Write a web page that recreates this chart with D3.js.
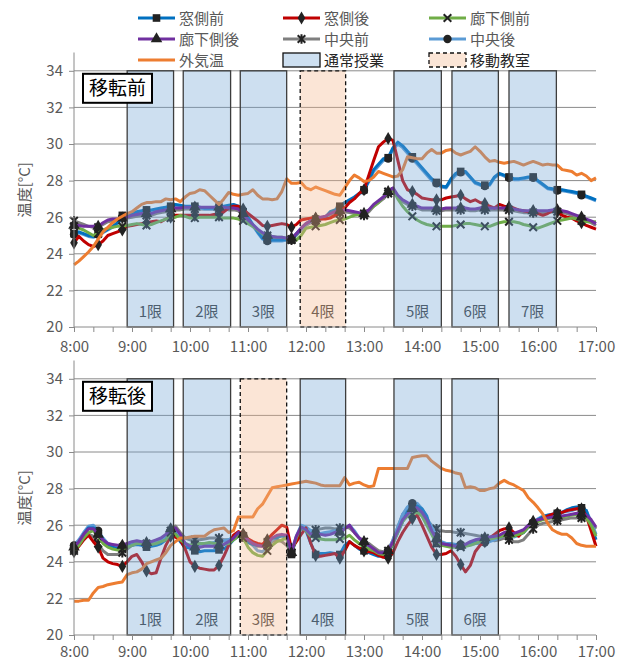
<!DOCTYPE html>
<html>
<head>
<meta charset="utf-8">
<script src="https://cdn.jsdelivr.net/npm/d3@7"></script>
<style>
  body { margin: 0; background: #fff; }
  svg { display: block; }
  text { font-family: 'Noto Sans CJK JP', 'Noto Sans', sans-serif; }
</style>
</head>
<body>
<div id="chart"></div>
<script>
// sample times: every 5 minutes from 8:00 (minutes since 8:00)
const sampleMinutes = d3.range(0, 541, 5);
const hourLabels = ["8:00", "9:00", "10:00", "11:00", "12:00", "13:00", "14:00", "15:00", "16:00", "17:00"];
const yTicks = [20, 22, 24, 26, 28, 30, 32, 34];

const seriesNames = ["窓側前", "窓側後", "廊下側前", "廊下側後", "中央前", "中央後", "外気温"];
const seriesColors = ["#0070c0", "#c00000", "#70ad47", "#7030a0", "#7f7f7f", "#5b9bd5", "#ed7d31"];
const seriesMarkers = ["square", "diamond", "x", "triangle", "star", "circle", null];

// 移転前
const preWinFront = [
  25.1, 25.2, 25.1, 25.0, 24.95, 25.1, 25.2, 25.35, 25.5, 25.7, 26.1, 26.15,
  26.2, 26.3, 26.35, 26.4, 26.4, 26.45, 26.5, 26.55, 26.6, 26.7, 26.65, 26.6,
  26.6, 26.6, 26.55, 26.5, 26.5, 26.5, 26.55, 26.6, 26.65, 26.7, 26.6, 26.3,
  26.0, 25.6, 25.2, 24.85, 24.75, 24.75, 24.75, 24.75, 24.8, 24.75, 25.1, 25.4,
  25.65, 25.8, 25.9, 25.95, 26.0, 26.3, 26.4, 26.6, 26.8, 26.95, 27.1, 27.3,
  27.5, 28.0, 28.6, 28.9, 29.2, 29.25, 29.8, 30.1, 29.9, 29.6, 29.3, 29.0,
  28.7, 28.4, 28.1, 27.9, 27.7, 27.65, 28.1, 28.4, 28.5, 28.5, 28.2, 27.9,
  27.8, 27.75, 27.8, 28.2, 28.4, 28.3, 28.2, 28.1, 28.1, 28.15, 28.2, 28.2,
  28.0, 27.8, 27.6, 27.55, 27.5, 27.5, 27.45, 27.4, 27.35, 27.25, 27.15, 27.05,
  26.95];
const preWinBack = [
  24.6, 24.95, 24.7, 24.5, 24.4, 24.5, 24.7, 25.0, 25.1, 25.2, 25.3, 25.5,
  25.55, 25.6, 25.65, 25.7, 25.75, 25.8, 25.75, 25.9, 26.0, 26.1, 26.1, 26.1,
  26.1, 26.1, 26.1, 26.1, 26.1, 26.15, 26.1, 26.3, 26.5, 26.6, 26.6, 26.45,
  26.2, 26.0, 25.8, 25.55, 25.5, 25.55, 25.6, 25.65, 25.6, 25.45, 25.6, 25.85,
  25.9, 25.95, 25.95, 25.9, 25.9, 25.95, 26.1, 26.3, 26.5, 26.8, 27.0, 27.3,
  27.5, 28.3, 29.1, 29.85, 30.1, 30.3, 30.2, 29.1, 28.0, 27.5, 27.4, 27.25,
  27.05, 27.0, 26.95, 26.95, 26.95, 27.05, 27.1, 27.15, 27.2, 27.0, 26.85, 26.95,
  26.8, 26.75, 26.6, 26.5, 26.7, 26.6, 26.55, 26.5, 26.4, 26.35, 26.3, 26.3,
  26.2, 26.1, 26.2, 26.35, 26.3, 26.1, 26.0, 25.95, 25.8, 25.7, 25.55, 25.45,
  25.35];
const preHallFront = [
  25.5, 25.4, 25.3, 25.15, 25.0, 25.1, 25.3, 25.4, 25.45, 25.5, 25.5, 25.55,
  25.6, 25.65, 25.6, 25.55, 25.6, 25.7, 25.8, 25.9, 25.95, 26.0, 26.1, 26.05,
  25.95, 25.95, 26.0, 26.0, 26.0, 26.0, 26.0, 25.95, 25.95, 25.95, 25.9, 25.8,
  25.65, 25.5, 25.3, 25.1, 25.0, 24.95, 24.9, 24.9, 24.85, 24.8, 24.75, 25.0,
  25.4, 25.45, 25.5, 25.55, 25.6, 25.7, 25.8, 25.85, 25.9, 26.0, 26.1, 26.15,
  26.2, 26.4, 26.6, 26.8, 27.1, 27.4, 27.5, 27.0, 26.6, 26.3, 26.05, 25.85,
  25.7, 25.6, 25.55, 25.5, 25.5, 25.5, 25.5, 25.55, 25.6, 25.65, 25.65, 25.6,
  25.55, 25.5, 25.5, 25.6, 25.7, 25.75, 25.75, 25.75, 25.7, 25.6, 25.55, 25.45,
  25.4, 25.5, 25.6, 25.7, 25.8, 25.85, 25.9, 25.95, 25.9, 25.8, 25.75, 25.75,
  25.75];
const preHallBack = [
  25.55, 25.55, 25.5, 25.5, 25.5, 25.5, 25.7, 25.85, 25.9, 25.9, 25.95, 26.0,
  26.1, 26.15, 26.2, 26.2, 26.2, 26.3, 26.35, 26.4, 26.45, 26.5, 26.5, 26.55,
  26.55, 26.55, 26.55, 26.55, 26.55, 26.55, 26.55, 26.55, 26.5, 26.5, 26.45, 26.2,
  25.85, 25.6, 25.35, 25.15, 25.0, 24.95, 24.9, 24.9, 24.85, 24.85, 25.1, 25.4,
  25.65, 25.8, 25.9, 26.0, 26.05, 26.2, 26.3, 26.35, 26.4, 26.35, 26.3, 26.25,
  26.2, 26.4, 26.7, 26.9, 27.1, 27.4, 27.6, 27.2, 26.95, 26.8, 26.7, 26.6,
  26.5, 26.5, 26.5, 26.45, 26.45, 26.5, 26.5, 26.5, 26.5, 26.5, 26.45, 26.45,
  26.5, 26.5, 26.5, 26.5, 26.5, 26.5, 26.5, 26.45, 26.4, 26.35, 26.35, 26.35,
  26.35, 26.35, 26.35, 26.4, 26.4, 26.35, 26.3, 26.2, 26.1, 26.0, 25.9, 25.8,
  25.65];
const preCenterFront = [
  25.8, 25.7, 25.6, 25.5, 25.45, 25.45, 25.6, 25.75, 25.8, 25.85, 25.9, 25.95,
  26.0, 26.05, 26.1, 26.1, 26.1, 26.2, 26.25, 26.3, 26.35, 26.4, 26.4, 26.45,
  26.45, 26.45, 26.45, 26.45, 26.45, 26.45, 26.45, 26.45, 26.4, 26.4, 26.35, 26.1,
  25.75, 25.5, 25.25, 25.05, 24.9, 24.85, 24.8, 24.8, 24.75, 24.75, 25.0, 25.3,
  25.55, 25.7, 25.8, 25.9, 25.95, 26.1, 26.2, 26.25, 26.3, 26.25, 26.2, 26.15,
  26.1, 26.3, 26.6, 26.8, 27.0, 27.3, 27.5, 27.1, 26.85, 26.7, 26.6, 26.5,
  26.4, 26.4, 26.4, 26.35, 26.35, 26.4, 26.4, 26.4, 26.4, 26.4, 26.35, 26.35,
  26.4, 26.4, 26.4, 26.4, 26.4, 26.4, 26.4, 26.35, 26.3, 26.25, 26.25, 26.25,
  26.25, 26.25, 26.25, 26.3, 26.3, 26.25, 26.2, 26.1, 26.0, 25.9, 25.8, 25.7,
  25.55];
const preCenterBack = [
  25.05, 25.15, 25.05, 24.95, 24.9, 25.05, 25.15, 25.3, 25.45, 25.65, 26.0, 26.1,
  26.15, 26.25, 26.3, 26.35, 26.35, 26.4, 26.45, 26.5, 26.55, 26.65, 26.6, 26.55,
  26.55, 26.55, 26.5, 26.45, 26.45, 26.45, 26.5, 26.55, 26.6, 26.65, 26.55, 26.25,
  25.95, 25.55, 25.15, 24.8, 24.7, 24.7, 24.7, 24.7, 24.75, 24.8, 25.05, 25.35,
  25.6, 25.75, 25.85, 25.9, 25.95, 26.25, 26.35, 26.55, 26.75, 26.9, 27.05, 27.25,
  27.45, 27.95, 28.5, 28.8, 29.1, 29.2, 29.7, 30.0, 29.8, 29.5, 29.2, 28.9,
  28.6, 28.3, 28.0, 27.85, 27.65, 27.6, 28.0, 28.3, 28.45, 28.45, 28.15, 27.85,
  27.75, 27.7, 27.75, 28.15, 28.35, 28.25, 28.15, 28.05, 28.05, 28.1, 28.15, 28.15,
  27.95, 27.75, 27.55, 27.5, 27.45, 27.45, 27.4, 27.35, 27.3, 27.2, 27.1, 27.0,
  26.9];
const preOutdoor = [
  23.4, 23.6, 23.85, 24.1, 24.4, 24.8, 25.2, 25.45, 25.7, 25.9, 26.05, 26.2,
  26.3, 26.5, 26.7, 26.8, 26.8, 26.85, 26.85, 27.0, 26.95, 27.0, 26.85, 27.1,
  27.3, 27.35, 27.5, 27.45, 27.2, 26.95, 26.7, 27.0, 27.35, 27.25, 27.2, 27.25,
  27.3, 27.5, 27.2, 27.0, 27.0, 26.95, 27.0, 27.4, 28.1, 27.85, 27.85, 27.9,
  27.6, 27.5, 27.65, 27.55, 27.45, 27.35, 27.25, 27.2, 27.6, 28.0, 28.3, 28.15,
  27.95, 28.0, 28.2, 28.5, 28.4, 28.3, 28.2, 28.25, 28.6, 29.3, 29.25, 29.2,
  29.2, 29.5, 29.7, 29.5, 29.5, 29.65, 29.7, 29.5, 29.4, 29.5, 29.6, 29.85,
  29.6, 29.3, 29.05, 29.1, 29.0, 28.95, 29.0, 29.05, 28.95, 28.85, 28.95, 29.05,
  28.95, 28.85, 28.9, 28.85, 28.85, 28.6, 28.55, 28.5, 28.3, 28.4, 28.25, 28.0,
  28.15];

// 移転後
const postWinFront = [
  24.75, 25.0, 25.5, 25.85, 25.85, 25.6, 25.2, 24.9, 24.8, 24.7, 24.75, 24.85,
  24.9, 24.95, 24.9, 24.8, 24.85, 24.9, 25.0, 25.2, 25.55, 25.5, 25.1, 24.8,
  24.75, 24.6, 24.55, 24.6, 24.6, 24.6, 24.65, 24.7, 24.9, 25.2, 25.4, 25.3,
  25.05, 24.95, 24.9, 24.9, 25.1, 25.3, 25.3, 25.45, 25.3, 24.4, 25.3, 25.85,
  25.7, 25.0, 24.4, 24.45, 24.45, 24.5, 24.45, 24.4, 24.9, 25.1, 24.9, 24.7,
  24.6, 24.5, 24.4, 24.3, 24.35, 24.45, 25.0, 25.6, 26.2, 26.75, 27.0, 27.05,
  26.9, 26.5, 25.6, 25.0, 24.9, 24.95, 24.9, 24.9, 24.85, 24.9, 25.0, 25.1,
  25.15, 25.2, 25.3, 25.35, 25.4, 25.55, 25.5, 25.45, 25.5, 25.6, 25.9, 26.1,
  26.3, 26.45, 26.55, 26.6, 26.65, 26.7, 26.85, 26.95, 27.0, 26.95, 26.8, 26.0,
  25.2];
const postWinBack = [
  24.55, 24.85, 25.2, 25.45, 25.1, 24.8, 24.2, 24.0, 23.9, 23.85, 23.75, 24.0,
  24.3, 24.4, 24.0, 23.5, 23.35, 23.4, 24.2, 24.9, 25.4, 25.35, 25.2, 24.7,
  24.0, 23.75, 23.65, 23.6, 23.55, 23.55, 23.8, 24.3, 24.9, 25.45, 25.65, 25.5,
  25.25, 25.1, 25.0, 24.95, 25.2, 25.5, 25.75, 26.0, 25.9, 24.7, 25.1, 25.5,
  25.85, 25.0, 24.35, 24.3, 24.35, 24.4, 24.45, 24.2, 24.6, 25.1, 24.9, 24.75,
  24.6, 24.55, 24.5, 24.35, 24.25, 24.2, 24.5, 25.1, 25.6, 26.0, 26.35, 26.55,
  26.0, 25.4, 24.8, 24.4, 24.4, 24.45, 24.6, 24.3, 23.85, 23.45, 23.8, 24.55,
  24.9, 25.1, 25.3, 25.5, 25.7, 25.8, 25.85, 25.6, 25.4, 25.7, 25.95, 26.1,
  26.25, 26.35, 26.5, 26.6, 26.65, 26.7, 26.8, 26.85, 26.9, 26.9, 26.5, 25.7,
  24.85];
const postHallFront = [
  24.6, 24.9, 25.3, 25.6, 25.7, 25.4, 25.0, 24.8, 24.7, 24.65, 24.7, 24.8,
  24.9, 25.0, 25.0, 24.95, 24.95, 25.0, 25.1, 25.2, 25.6, 25.5, 25.2, 25.0,
  24.9, 24.95, 25.0, 25.0, 25.05, 25.0, 25.0, 24.95, 25.0, 25.2, 25.4, 25.3,
  24.8, 24.5, 24.35, 24.3, 24.6, 24.9, 25.1, 25.2, 25.3, 24.5, 25.3, 25.9,
  25.7, 25.4, 25.3, 25.25, 25.2, 25.2, 25.2, 25.25, 25.3, 25.45, 25.2, 25.0,
  24.8, 24.7, 24.6, 24.45, 24.4, 24.5, 25.0, 25.6, 26.2, 26.5, 26.6, 26.7,
  26.5, 26.0, 25.5, 25.0, 24.9, 24.85, 24.8, 24.8, 24.8, 24.85, 24.9, 25.0,
  25.1, 25.2, 25.25, 25.3, 25.35, 25.45, 25.4, 25.4, 25.5, 25.6, 25.9, 26.05,
  26.2, 26.3, 26.35, 26.4, 26.4, 26.45, 26.5, 26.55, 26.6, 26.55, 26.4, 26.0,
  25.4];
const postHallBack = [
  24.8, 25.1, 25.5, 25.8, 25.8, 25.5, 25.2, 25.0, 24.95, 24.9, 24.9, 25.0,
  25.1, 25.15, 25.1, 25.05, 25.1, 25.2, 25.3, 25.5, 25.8, 25.85, 25.5, 25.0,
  24.85, 24.8, 24.8, 24.85, 24.85, 24.85, 24.9, 24.95, 25.1, 25.3, 25.6, 25.5,
  25.2, 25.0, 24.9, 24.85, 25.0, 25.3, 25.45, 25.5, 25.45, 24.5, 25.4, 25.9,
  25.75, 25.5, 25.5, 25.5, 25.45, 25.5, 25.6, 25.6, 25.8, 26.0, 25.6, 25.3,
  25.1, 24.9, 24.7, 24.5, 24.5, 24.6, 25.1, 25.7, 26.3, 26.6, 26.9, 26.95,
  26.7, 26.3, 25.7, 25.25, 25.0, 24.95, 24.9, 24.85, 24.9, 24.95, 25.1, 25.2,
  25.25, 25.3, 25.35, 25.4, 25.45, 25.6, 25.55, 25.55, 25.65, 25.75, 26.0, 26.2,
  26.3, 26.35, 26.4, 26.45, 26.5, 26.5, 26.55, 26.6, 26.65, 26.6, 26.55, 26.3,
  25.9];
const postCenterFront = [
  24.7, 24.9, 25.2, 25.5, 25.4, 25.0, 24.6, 24.4, 24.4, 24.4, 24.5, 24.7,
  24.9, 25.0, 25.05, 25.0, 25.05, 25.1, 25.2, 25.4, 25.7, 25.95, 25.6, 25.3,
  25.2, 25.2, 25.2, 25.25, 25.3, 25.3, 25.3, 25.2, 25.2, 25.3, 25.4, 25.4,
  25.1, 24.9, 24.85, 24.85, 24.9, 25.1, 25.2, 25.1, 24.9, 24.5, 25.3, 25.9,
  25.8, 25.7, 25.75, 25.8, 25.85, 25.85, 25.8, 25.85, 25.9, 25.85, 25.6, 25.3,
  25.1, 25.0, 24.8, 24.6, 24.55, 24.6, 25.2, 25.9, 26.6, 26.9, 27.0, 26.9,
  26.6, 26.3, 26.0, 25.8, 25.7, 25.65, 25.65, 25.6, 25.6, 25.55, 25.5, 25.45,
  25.4, 25.3, 25.2, 25.15, 25.2, 25.3, 25.2, 25.1, 25.1, 25.2, 25.5, 25.8,
  26.0, 26.1, 26.15, 26.2, 26.25, 26.3, 26.35, 26.4, 26.4, 26.4, 26.35, 26.2,
  25.8];
const postCenterBack = [
  24.9, 25.2, 25.6, 25.95, 26.0, 25.7, 25.3, 25.0, 24.9, 24.8, 24.85, 24.9,
  25.0, 25.05, 25.0, 24.95, 25.0, 25.1, 25.2, 25.4, 25.7, 25.7, 25.3, 25.0,
  24.9, 24.9, 24.95, 25.0, 25.0, 25.05, 25.1, 25.15, 25.2, 25.35, 25.5, 25.45,
  25.2, 24.9, 24.6, 24.55, 24.8, 25.2, 25.35, 25.4, 25.3, 24.6, 25.4, 26.0,
  25.9, 25.7, 25.6, 25.55, 25.6, 25.65, 25.7, 25.7, 25.85, 26.0, 25.7, 25.3,
  25.0, 24.8, 24.6, 24.45, 24.45, 24.6, 25.2, 25.9, 26.6, 27.0, 27.2, 27.2,
  26.9, 26.4, 25.9, 25.4, 25.1, 25.0, 25.0, 24.95, 24.95, 24.9, 24.95, 25.0,
  25.0, 25.05, 25.1, 25.2, 25.3, 25.45, 25.4, 25.35, 25.45, 25.6, 25.9, 26.15,
  26.35, 26.5, 26.55, 26.6, 26.65, 26.7, 26.75, 26.8, 26.9, 26.9, 26.8, 26.2,
  25.5];
const postOutdoor = [
  21.85, 21.85, 21.9, 21.9, 22.3, 22.6, 22.65, 22.75, 22.8, 22.85, 22.9, 23.3,
  23.4, 23.45, 23.6, 23.9, 24.0, 24.1, 24.2, 24.5, 24.9, 25.1, 25.3, 25.3,
  25.35, 25.4, 25.4, 25.4, 25.6, 25.75, 25.8, 25.85, 25.6, 25.7, 26.45, 26.45,
  26.45, 26.45, 26.9, 27.15, 27.6, 28.05, 28.1, 28.15, 28.2, 28.25, 28.3, 28.35,
  28.4, 28.35, 28.3, 28.2, 28.15, 28.15, 28.15, 28.15, 28.6, 28.2, 28.3, 28.35,
  28.2, 28.1, 28.15, 29.1, 29.1, 29.1, 29.1, 29.1, 29.1, 29.1, 29.7, 29.75,
  29.8, 29.8, 29.5, 29.3, 29.1, 29.0, 28.95, 28.85, 28.8, 28.05, 28.1, 28.05,
  27.9, 27.9, 28.0, 28.05, 28.3, 28.45, 28.3, 28.2, 28.05, 27.9, 27.5, 27.25,
  26.95, 26.6, 26.1, 25.75, 25.6, 25.5, 25.5, 25.3, 25.0, 24.9, 24.85, 24.85,
  24.85];

// class periods (授業時間帯)
const periodLabelsPre = ["1限", "2限", "3限", "4限", "5限", "6限", "7限"];
const periodStartPre = ["8:55", "9:53", "10:52", "11:54", "13:31", "14:31", "15:30"];
const periodEndPre = ["9:43", "10:42", "11:40", "12:41", "14:20", "15:19", "16:19"];
const movingPre = "4限";
const periodLabelsPost = ["1限", "2限", "3限", "4限", "5限", "6限"];
const periodStartPost = ["8:55", "9:53", "10:52", "11:54", "13:31", "14:31"];
const periodEndPost = ["9:43", "10:42", "11:40", "12:41", "14:20", "15:19"];
const movingPost = "3限";

const toMin = s => { const [h, m] = s.split(":").map(Number); return (h - 8) * 60 + m; };

const W = 627, H = 663;
const svg = d3.select("#chart").append("svg").attr("width", W).attr("height", H);

const markerColor = "#222";
const regularFill = "#70a4d4", movingFill = "#f4b58a", boxOpacity = 0.35;

const symbolPaths = {
  square: d3.symbol(d3.symbolSquare, 58)(),
  diamond: d3.symbol(d3.symbolDiamond, 50)(),
  triangle: d3.symbol(d3.symbolTriangle, 58)(),
  circle: d3.symbol(d3.symbolCircle, 55)(),
  x: "M-3.8,-3.8L3.8,3.8M-3.8,3.8L3.8,-3.8",
  star: "M-3.8,-3.8L3.8,3.8M-3.8,3.8L3.8,-3.8M0,-4.8L0,4.8"
};

function drawMarker(g, type, cx, cy) {
  const p = g.append("path").attr("d", symbolPaths[type])
    .attr("transform", `translate(${cx},${cy})`);
  if (type === "x" || type === "star") {
    p.attr("fill", "none").attr("stroke", markerColor).attr("stroke-width", 2);
  } else {
    p.attr("fill", markerColor);
  }
}

function drawPanel(opt) {
  const g = svg.append("g");
  const x = d3.scaleLinear().domain([0, 540]).range([74, 596]);
  const y = d3.scaleLinear().domain([20, 35]).range([opt.bottom, opt.bottom - 15 * 18.3]);

  // horizontal gridlines
  g.append("g").selectAll("line").data(yTicks.slice(1)).enter().append("line")
    .attr("x1", x(0)).attr("x2", x(540))
    .attr("y1", d => y(d)).attr("y2", d => y(d))
    .attr("stroke", "#8a8a8a").attr("stroke-width", 1);

  // series: 中央前・中央後 first so the others sit on top
  const order = [4, 5, 0, 1, 2, 3, 6];
  const line = d3.line().x((d, i) => x(sampleMinutes[i])).y(d => y(d));
  order.forEach(k => {
    const vals = opt.series[k];
    const sg = g.append("g");
    sg.append("path").datum(vals).attr("d", line)
      .attr("fill", "none").attr("stroke", seriesColors[k])
      .attr("stroke-width", 3).attr("stroke-linejoin", "round");
    if (seriesMarkers[k]) {
      vals.forEach((v, i) => {
        if (i % 5 === 0) drawMarker(sg, seriesMarkers[k], x(sampleMinutes[i]), y(v));
      });
    }
  });

  // period labels, then translucent period boxes on top
  opt.labels.forEach((lab, i) => {
    const cx = (x(toMin(opt.starts[i])) + x(toMin(opt.ends[i]))) / 2;
    g.append("text").attr("x", cx).attr("y", opt.bottom - 10)
      .attr("text-anchor", "middle").attr("font-size", 15).attr("fill", "#3a3a3a")
      .text(lab);
  });
  opt.labels.forEach((lab, i) => {
    const x0 = x(toMin(opt.starts[i])), x1 = x(toMin(opt.ends[i]));
    const moving = lab === opt.moving;
    g.append("rect")
      .attr("x", x0).attr("y", y(34)).attr("width", x1 - x0).attr("height", y(20) - y(34))
      .attr("fill", moving ? movingFill : regularFill).attr("fill-opacity", boxOpacity)
      .attr("stroke", moving ? "#111" : "#3d3d3d").attr("stroke-width", 1.3)
      .attr("stroke-dasharray", moving ? "4,3" : null);
  });

  // axes
  const xAxis = g.append("g").attr("transform", `translate(0,${opt.bottom})`)
    .call(d3.axisBottom(x).tickValues(d3.range(0, 541, 20)).tickSize(5)
      .tickFormat(d => d % 60 === 0 ? hourLabels[d / 60] : ""));
  xAxis.select(".domain").attr("stroke", "#8a8a8a").attr("d", `M${x(0)},0H${x(540)}`);
  xAxis.selectAll(".tick line").attr("stroke", "#8a8a8a");
  xAxis.selectAll("text").attr("y", opt.labelOffset).attr("dy", 0)
    .attr("font-size", 15).attr("fill", "#595959").attr("font-family", null);

  const yAxis = g.append("g").attr("transform", `translate(${x(0)},0)`)
    .call(d3.axisLeft(y).tickValues(yTicks).tickSize(5).tickPadding(6));
  yAxis.select(".domain").attr("stroke", "#8a8a8a").attr("d", `M0,${y(35)}V${y(20)}`);
  yAxis.selectAll(".tick line").attr("stroke", "#8a8a8a");
  yAxis.selectAll("text").attr("font-size", 15).attr("fill", "#595959").attr("font-family", null);

  // y title
  const cy = (y(35) + y(20)) / 2;
  g.append("text").attr("transform", `translate(30,${cy}) rotate(-90)`)
    .attr("text-anchor", "middle").attr("font-size", 15).attr("fill", "#595959")
    .text("温度[°C]");

  // panel title box
  g.append("rect").attr("x", 83).attr("y", y(34) + 3).attr("width", 69).attr("height", 29)
    .attr("fill", "#fff").attr("stroke", "#000").attr("stroke-width", 2);
  g.append("text").attr("x", 117.5).attr("y", y(34) + 24).attr("text-anchor", "middle")
    .attr("font-size", 19).attr("fill", "#000").text(opt.title);
}

drawPanel({
  title: "移転前", bottom: 327, labelOffset: 25,
  series: [preWinFront, preWinBack, preHallFront, preHallBack, preCenterFront, preCenterBack, preOutdoor],
  labels: periodLabelsPre, starts: periodStartPre, ends: periodEndPre, moving: movingPre
});
drawPanel({
  title: "移転後", bottom: 635, labelOffset: 22,
  series: [postWinFront, postWinBack, postHallFront, postHallBack, postCenterFront, postCenterBack, postOutdoor],
  labels: periodLabelsPost, starts: periodStartPost, ends: periodEndPost, moving: movingPost
});

// legend
const legendCols = [138, 283, 429];
const legendRows = [18, 39, 60];
const legend = svg.append("g");
seriesNames.forEach((name, k) => {
  const cx = legendCols[k % 3], cy = legendRows[Math.floor(k / 3)];
  legend.append("line").attr("x1", cx).attr("x2", cx + 37).attr("y1", cy).attr("y2", cy)
    .attr("stroke", seriesColors[k]).attr("stroke-width", 3);
  if (seriesMarkers[k]) drawMarker(legend, seriesMarkers[k], cx + 18.5, cy);
  legend.append("text").attr("x", cx + 41).attr("y", cy + 5.5)
    .attr("font-size", 15).attr("fill", "#595959").text(name);
});
[["通常授業", regularFill, null], ["移動教室", movingFill, "4,3"]].forEach((d, i) => {
  const cx = legendCols[i + 1], cy = legendRows[2];
  legend.append("rect").attr("x", cx).attr("y", cy - 7).attr("width", 37).attr("height", 14)
    .attr("fill", d[1]).attr("fill-opacity", boxOpacity)
    .attr("stroke", "#111").attr("stroke-width", 1.3).attr("stroke-dasharray", d[2]);
  legend.append("text").attr("x", cx + 41).attr("y", cy + 5.5)
    .attr("font-size", 15).attr("fill", "#262626").text(d[0]);
});
</script>
</body>
</html>
